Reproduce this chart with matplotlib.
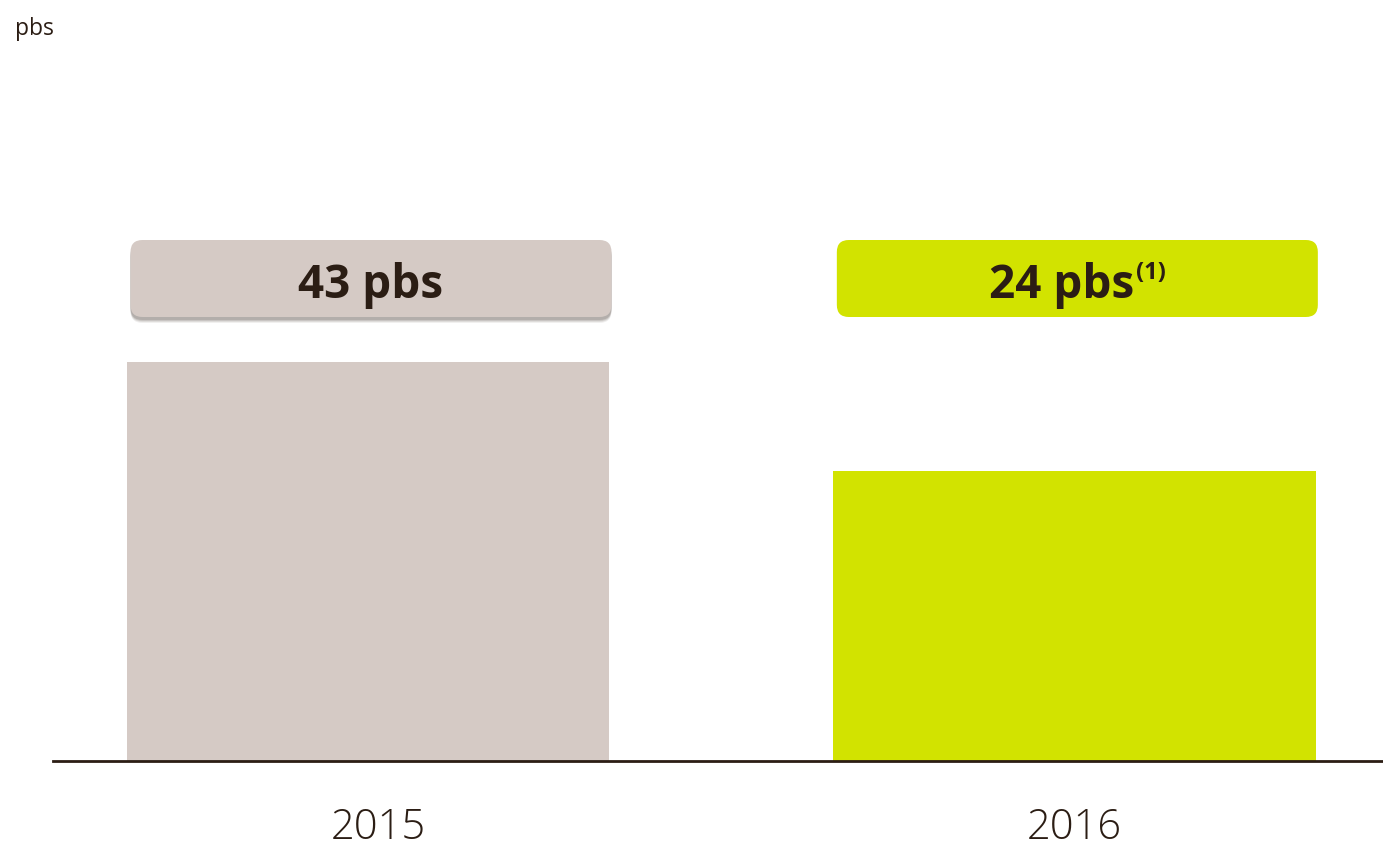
import matplotlib
matplotlib.use("Agg")
import matplotlib.pyplot as plt
from matplotlib.patches import FancyBboxPatch
from matplotlib.transforms import IdentityTransform

# data (bars in the source are not drawn to scale of the labels)
years        = ["2015", "2016"]
bar_heights  = [43.0, 31.3]
box_labels   = ["43 pbs", "24 pbs"]
box_notes    = ["", "(1)"]
bar_colors   = ["#d5cac5", "#d2e300"]
unit_label   = "pbs"

text_col = "#2b1d14"
plt.rcParams['font.family'] = ['Open Sans', 'DejaVu Sans']

W, H, DPI = 1383, 847, 100
fig = plt.figure(figsize=(W / DPI, H / DPI), dpi=DPI)
ax = fig.add_axes([53 / W, 86 / H, 1 - 53 / W, 761 / H])

x = list(range(len(years)))
ax.bar(x, bar_heights, width=0.683, color=bar_colors, zorder=2)
ax.set_xlim(-0.446, 1.437)
ax.set_ylim(0, 82.0)

for s in ["top", "left", "right"]:
    ax.spines[s].set_visible(False)
ax.spines["bottom"].set_color(text_col)
ax.spines["bottom"].set_linewidth(2)
ax.set_yticks([])
ax.set_xticks([])

# year labels under the baseline (the 2015 one sits a bit right of its bar)
year_dx = [10, 0]
for i, yr in enumerate(years):
    cx, cy = ax.transData.transform((x[i], 0))
    fig.text((cx + year_dx[i]) / W, (H - 839) / H, yr, ha="center", va="baseline",
             fontsize=30, fontweight="light", color=text_col)

# ── value boxes (pixel coords) ───────────────────────────────────────────────
box_w, box_h = 481, 77
box_bottom = H - 317
for i, (lab, note, col) in enumerate(zip(box_labels, box_notes, bar_colors)):
    cx, _ = ax.transData.transform((x[i], 0))
    cx += 3
    if i == 0:
        for k, a in [(6, 0.12), (5, 0.18), (4, 0.25), (3, 0.35)]:
            sh = FancyBboxPatch((cx - box_w / 2, box_bottom - k), box_w, box_h,
                                boxstyle="round,pad=0,rounding_size=12",
                                transform=IdentityTransform(), color="#8c8480",
                                alpha=a, lw=0)
            fig.add_artist(sh)
    box = FancyBboxPatch((cx - box_w / 2, box_bottom), box_w, box_h,
                         boxstyle="round,pad=0,rounding_size=12",
                         transform=IdentityTransform(), color=col, lw=0)
    fig.add_artist(box)
    shift = -16 if note else 0
    t = fig.text((cx + shift) / W, (H - 298) / H, lab, ha="center", va="baseline",
                 fontsize=33, fontweight="bold", color=text_col)
    if note:
        fig.canvas.draw()
        bb = t.get_window_extent()
        fig.text((bb.x1 + 2) / W, (H - 279) / H, note, ha="left", va="baseline",
                 fontsize=17, fontweight="bold", color=text_col)

fig.text(15 / W, (H - 35) / H, unit_label, ha="left", va="baseline",
         fontsize=16.5, color=text_col)

fig.savefig("out.png", dpi=DPI, facecolor="white")
